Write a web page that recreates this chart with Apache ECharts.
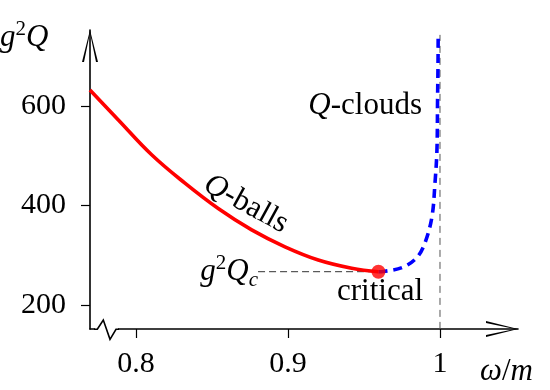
<!DOCTYPE html>
<html>
<head>
<meta charset="utf-8">
<script src="https://cdn.jsdelivr.net/npm/echarts@6/dist/echarts.min.js"></script>
<style>
  html, body { margin: 0; padding: 0; background: #fff; }
  #chart { width: 550px; height: 390px; }
</style>
</head>
<body>
<div id="chart"></div>
<script>
// omega/m vs g^2 Q
const xTicks = [0.8, 0.9, 1];
const yTicks = [200, 400, 600];

const qBalls = [
  [0.7697, 632], [0.7884, 572], [0.8103, 502], [0.8322, 445],
  [0.8541, 394], [0.8761, 351], [0.8980, 317], [0.9199, 290.5],
  [0.9419, 274], [0.9595, 267]
];
const qClouds = [
  [0.9595, 267], [0.9627, 267.5], [0.9757, 276], [0.9849, 296],
  [0.9901, 325], [0.9947, 377], [0.9967, 445], [0.9980, 512],
  [0.9984, 612], [0.9987, 686], [0.9988, 739]
];
const critical = [[0.9595, 267]];
const guideVertical = [[1, 152], [1, 743]];
const guideHorizontal = [[0.8803, 267], [0.9595, 267]];

const serif = '"Liberation Serif", "DejaVu Serif", serif';
const arrow = 'path://M8,0 L16,32 L14,32 L8,3 L2,32 L0,32 Z';

const chart = echarts.init(document.getElementById('chart'), null, { renderer: 'canvas' });

const axisCommon = {
    type: 'value',
    splitLine: { show: false },
    axisLine: {
        show: true,
        symbol: ['none', arrow],
        symbolSize: [16, 32],
        symbolOffset: [0, -16],
        lineStyle: { color: '#000', width: 1.6 }
    },
    axisTick: { show: true, inside: false, length: 9, lineStyle: { color: '#000', width: 1.2 } },
    axisLabel: { color: '#000', fontFamily: serif, fontSize: 30 }
};

const rich = {
    i: { fontFamily: serif, fontSize: 31, lineHeight: 38, fontStyle: 'italic', fill: '#000' },
    n: { fontFamily: serif, fontSize: 31, lineHeight: 38, fill: '#000' },
    sup: { fontFamily: serif, fontSize: 21, verticalAlign: 'top', fill: '#000' },
    sub: { fontFamily: serif, fontSize: 21, fontStyle: 'italic', verticalAlign: 'bottom', fill: '#000' }
};

function label(text, x, y, align, extra) {
    return Object.assign({
        type: 'text',
        x: x,
        y: y,
        z: 100,
        style: {
            text: text,
            rich: rich,
            fontFamily: serif,
            fontSize: 31,
            fill: '#000',
            align: align,
            verticalAlign: 'middle'
        }
    }, extra || {});
}

chart.setOption({
    animation: false,
    backgroundColor: '#fff',
    grid: { left: 90, right: 32, top: 30, bottom: 61, containLabel: false, outerBoundsMode: 'none' },
    xAxis: Object.assign({}, axisCommon, {
        min: 0.76974,
        max: 1.05132,
        axisTick: Object.assign({}, axisCommon.axisTick, { customValues: xTicks }),
        axisLabel: Object.assign({}, axisCommon.axisLabel, {
            customValues: xTicks,
            margin: 20,
            formatter: v => String(v)
        })
    }),
    yAxis: Object.assign({}, axisCommon, {
        min: 151.8,
        max: 752.8,
        axisTick: Object.assign({}, axisCommon.axisTick, { customValues: yTicks }),
        axisLabel: Object.assign({}, axisCommon.axisLabel, {
            customValues: yTicks,
            margin: 24,
            formatter: v => String(v)
        })
    }),
    series: [
        {
            type: 'line',
            data: guideVertical,
            showSymbol: false,
            silent: true,
            lineStyle: { color: '#555', width: 1, type: [7, 5] }
        },
        {
            type: 'line',
            data: guideHorizontal,
            showSymbol: false,
            silent: true,
            lineStyle: { color: '#333', width: 1, type: [7, 4] }
        },
        {
            type: 'line',
            data: qClouds,
            showSymbol: false,
            smooth: 0.35,
            lineStyle: { color: '#0000ff', width: 3.6, type: [9, 6] }
        },
        {
            type: 'line',
            data: qBalls,
            showSymbol: false,
            smooth: 0.4,
            lineStyle: { color: '#ff0000', width: 3.6 }
        },
        {
            type: 'scatter',
            data: critical,
            symbolSize: 14,
            itemStyle: { color: '#ff0000' },
            z: 5
        }
    ],
    graphic: [
        // axis break on the x axis
        { type: 'rect', z: 90, shape: { x: 95, y: 326, width: 23, height: 6 }, style: { fill: '#fff' } },
        {
            type: 'polyline',
            z: 95,
            shape: { points: [[94, 329.3], [97.3, 329.3], [103.3, 320], [110, 339.3], [116, 329.3], [119, 329.3]] },
            style: { stroke: '#000', lineWidth: 1.6, fill: null }
        },
        label('{i|g}{sup|2}{i|Q}', 0, 38, 'left'),
        label('{i|ω}{n|/}{i|m}', 480, 372, 'left'),
        label('{i|Q}{n|-clouds}', 422, 106, 'right'),
        label('{n|critical}', 380, 292, 'center'),
        label('{i|g}{sup|2}{i|Q}{sub|c}', 258, 272, 'right'),
        label('{i|Q}{n|-balls}', 246, 204, 'center', { rotation: -0.5 })
    ]
});
</script>
</body>
</html>
